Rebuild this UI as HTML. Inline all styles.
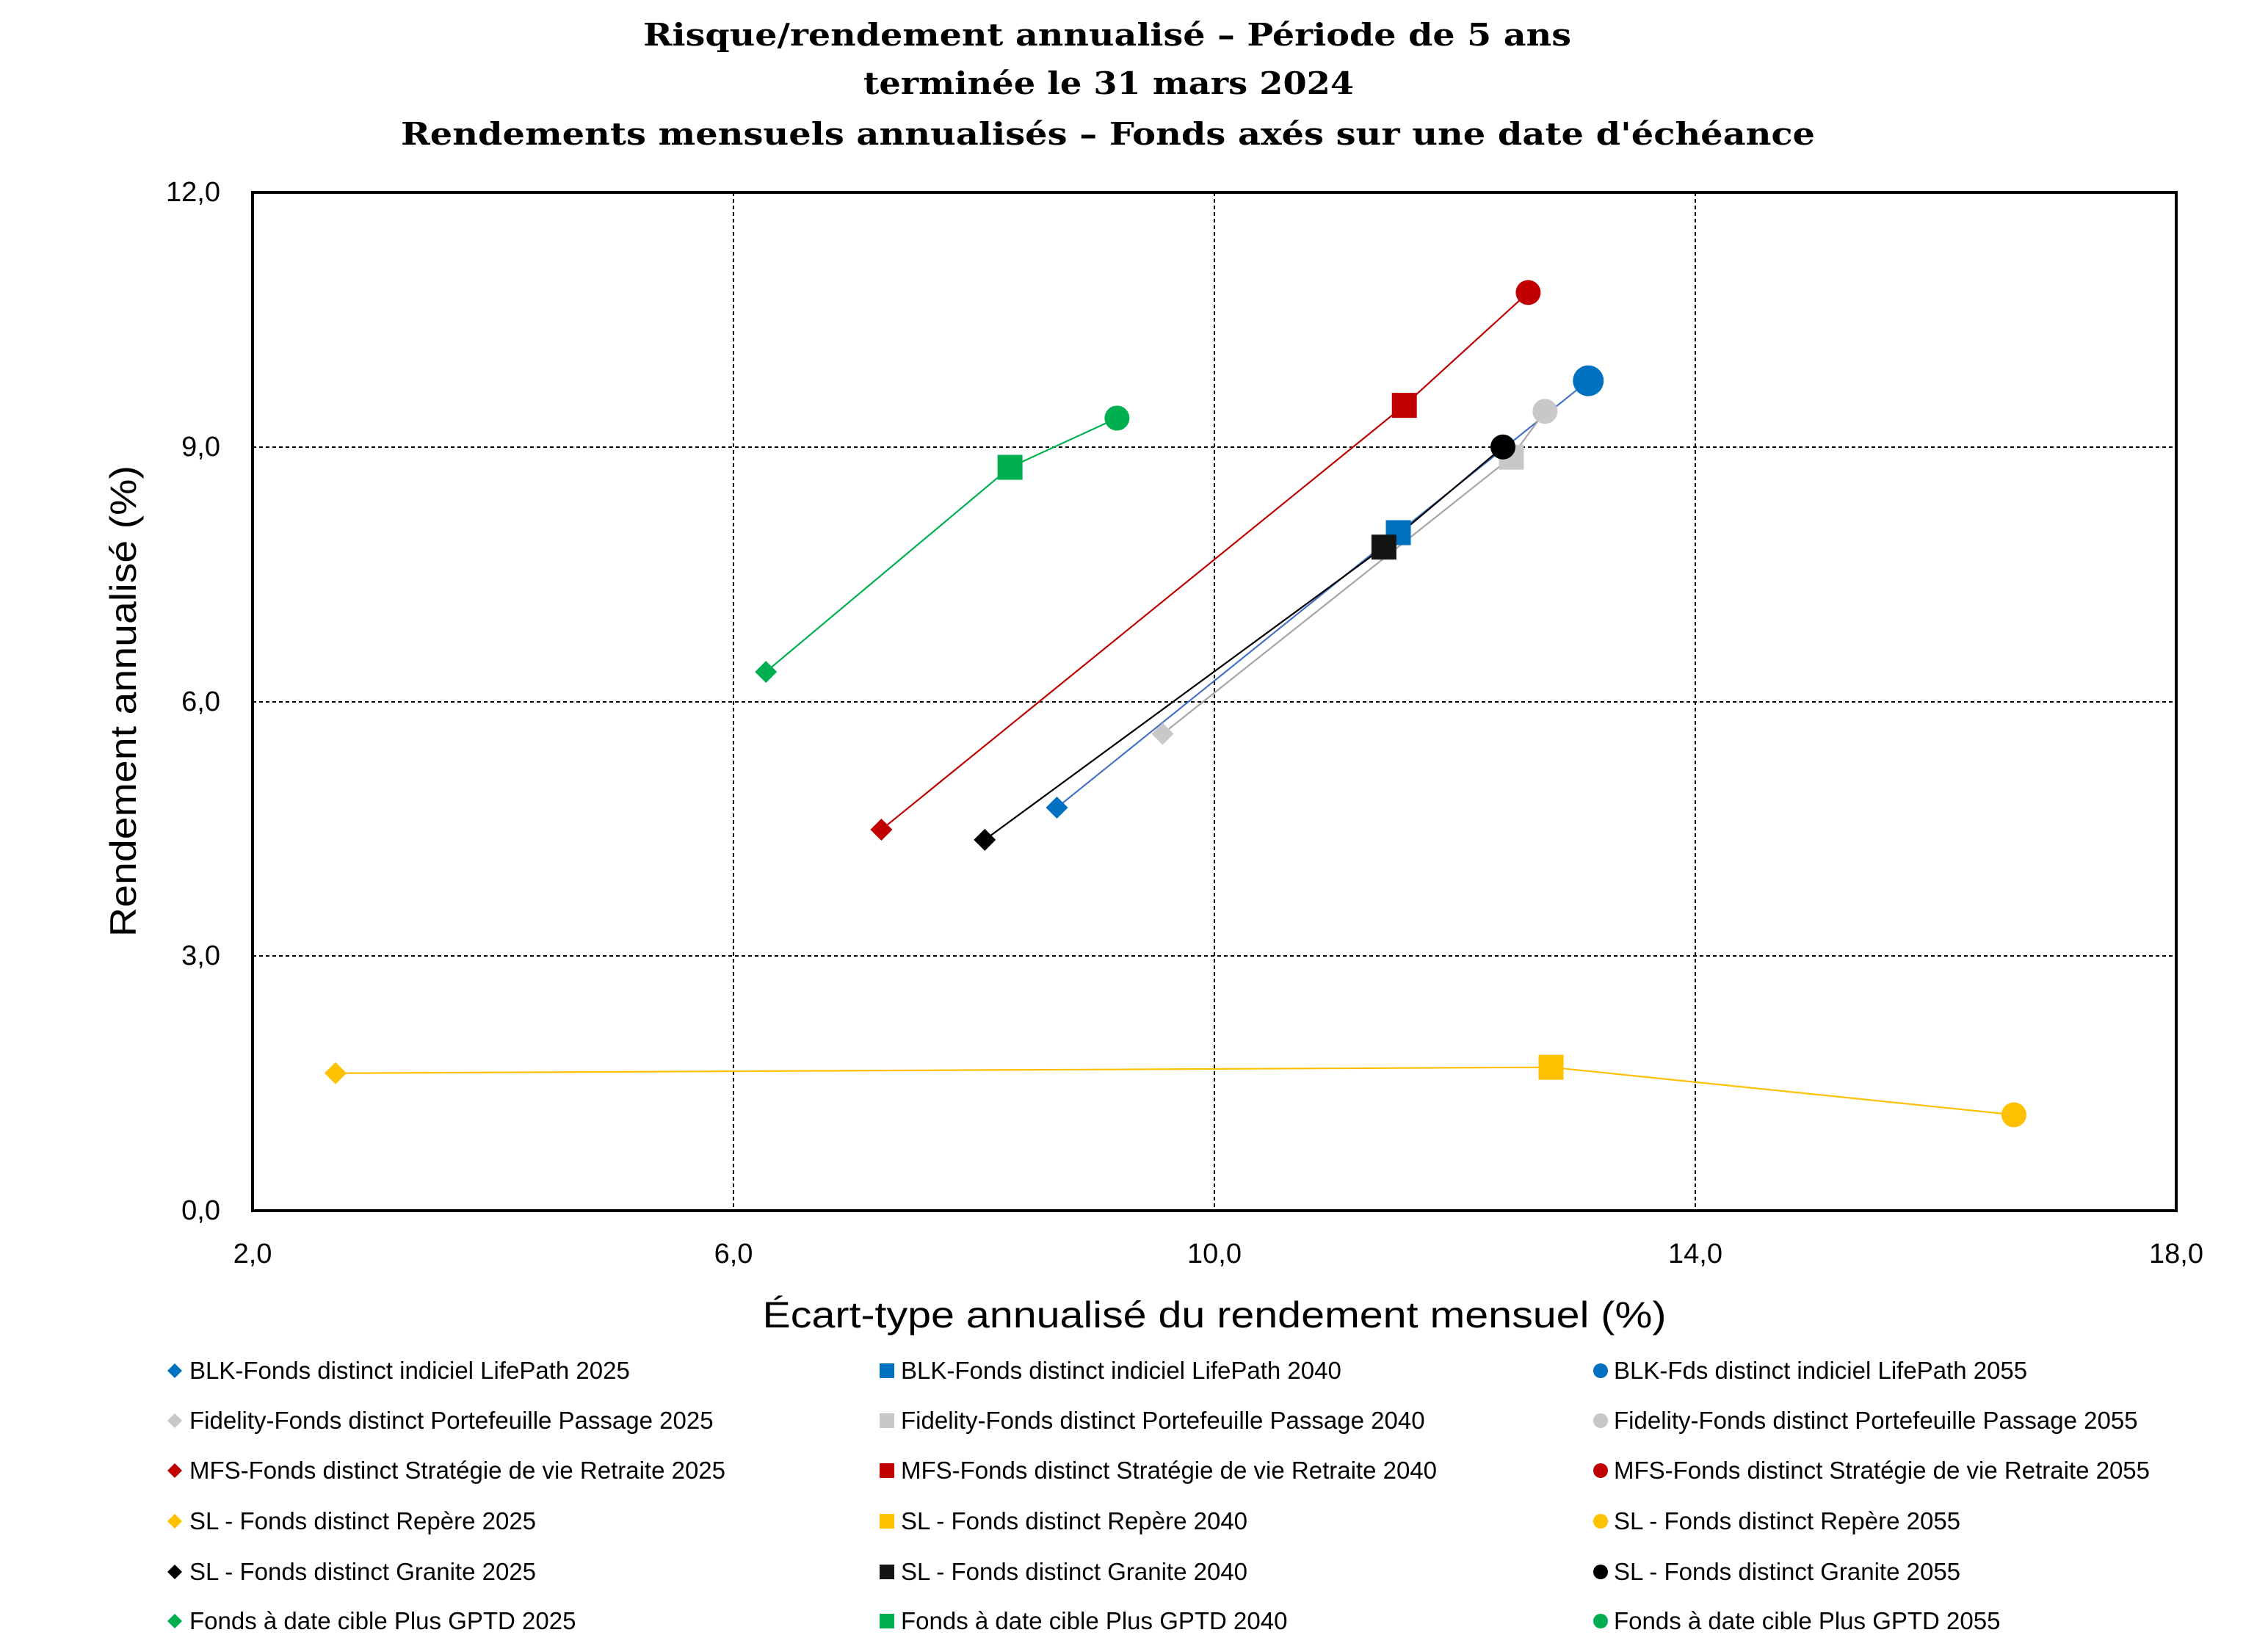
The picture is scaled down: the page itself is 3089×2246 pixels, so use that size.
<!DOCTYPE html>
<html><head><meta charset="utf-8"><style>
html,body{margin:0;padding:0;background:#fff}
svg{display:block}
</style></head><body>
<svg id="s" width="3089" height="2246" viewBox="0 0 3089 2246" xmlns="http://www.w3.org/2000/svg">
<rect width="3089" height="2246" fill="#fff"/>
<g font-family="'DejaVu Serif', 'Liberation Serif', serif" font-weight="bold" fill="#000" text-anchor="middle" font-size="42">
<text x="1508" y="62" textLength="1264" lengthAdjust="spacingAndGlyphs">Risque/rendement annualisé – Période de 5 ans</text>
<text x="1510" y="128" textLength="668" lengthAdjust="spacingAndGlyphs">terminée le 31 mars 2024</text>
<text x="1509" y="197" textLength="1926" lengthAdjust="spacingAndGlyphs">Rendements mensuels annualisés –  Fonds axés sur une date d'échéance</text>
</g>
<g stroke="#000" stroke-width="2" stroke-dasharray="5,4">
<line x1="999" y1="262" x2="999" y2="1649"/>
<line x1="1654" y1="262" x2="1654" y2="1649"/>
<line x1="2309" y1="262" x2="2309" y2="1649"/>
<line x1="344" y1="609" x2="2964" y2="609"/>
<line x1="344" y1="956" x2="2964" y2="956"/>
<line x1="344" y1="1302" x2="2964" y2="1302"/>
</g>
<rect x="344" y="262" width="2620" height="1387" fill="none" stroke="#000" stroke-width="4"/>
<g font-family="'Liberation Sans', sans-serif" font-size="38" fill="#000" text-anchor="end">
<text x="300" y="274">12,0</text>
<text x="300" y="621">9,0</text>
<text x="300" y="968">6,0</text>
<text x="300" y="1314">3,0</text>
<text x="300" y="1661">0,0</text>
</g>
<g font-family="'Liberation Sans', sans-serif" font-size="38" fill="#000" text-anchor="middle">
<text x="344" y="1720">2,0</text>
<text x="999" y="1720">6,0</text>
<text x="1654" y="1720">10,0</text>
<text x="2309" y="1720">14,0</text>
<text x="2964" y="1720">18,0</text>
</g>
<text transform="translate(185,955) rotate(-90)" font-family="'Liberation Sans', sans-serif" font-size="50" text-anchor="middle" textLength="642" lengthAdjust="spacingAndGlyphs">Rendement annualisé (%)</text>
<text x="1654" y="1808" font-family="'Liberation Sans', sans-serif" font-size="50" text-anchor="middle" textLength="1231" lengthAdjust="spacingAndGlyphs">Écart-type annualisé du rendement mensuel (%)</text>
<g id="plot"></g>
<g font-family="'Liberation Sans', sans-serif" font-size="33" fill="#000">
<text x="258" y="1878">BLK-Fonds distinct indiciel LifePath 2025</text>
<text x="1227" y="1878">BLK-Fonds distinct indiciel LifePath 2040</text>
<text x="2198" y="1878">BLK-Fds distinct indiciel LifePath 2055</text>
<text x="258" y="1946">Fidelity-Fonds distinct Portefeuille Passage 2025</text>
<text x="1227" y="1946">Fidelity-Fonds distinct Portefeuille Passage 2040</text>
<text x="2198" y="1946">Fidelity-Fonds distinct Portefeuille Passage 2055</text>
<text x="258" y="2014">MFS-Fonds distinct Stratégie de vie Retraite 2025</text>
<text x="1227" y="2014">MFS-Fonds distinct Stratégie de vie Retraite 2040</text>
<text x="2198" y="2014">MFS-Fonds distinct Stratégie de vie Retraite 2055</text>
<text x="258" y="2083">SL - Fonds distinct Repère 2025</text>
<text x="1227" y="2083">SL - Fonds distinct Repère 2040</text>
<text x="2198" y="2083">SL - Fonds distinct Repère 2055</text>
<text x="258" y="2152">SL - Fonds distinct Granite 2025</text>
<text x="1227" y="2152">SL - Fonds distinct Granite 2040</text>
<text x="2198" y="2152">SL - Fonds distinct Granite 2055</text>
<text x="258" y="2219">Fonds à date cible Plus GPTD 2025</text>
<text x="1227" y="2219">Fonds à date cible Plus GPTD 2040</text>
<text x="2198" y="2219">Fonds à date cible Plus GPTD 2055</text>
</g>
<g id="leg"></g>
</svg>
<script>
(function(){
var NS="http://www.w3.org/2000/svg";
function X(v){return 344+(v-2)*163.75;}
function Y(v){return 1649-v*115.58;}
var S=[
 {c:"#0070C0",l:"#4472C4",p:[[8.69,4.75],[11.53,7.99],[13.11,9.78]],big:true},
 {c:"#C8C8C8",l:"#A6A6A6",p:[[9.57,5.62],[12.47,8.88],[12.75,9.42]]},
 {c:"#C00000",l:"#C00000",p:[[7.23,4.49],[11.58,9.49],[12.61,10.82]]},
 {c:"#FFC000",l:"#FFC000",p:[[2.69,1.62],[12.80,1.69],[16.65,1.13]]},
 {c:"#000000",l:"#000000",sq:"#141414",p:[[8.09,4.37],[11.41,7.82],[12.40,9.0]]},
 {c:"#00B050",l:"#00B050",p:[[6.27,6.35],[8.30,8.76],[9.19,9.34]]}
];
var g=document.getElementById("plot"),lg=document.getElementById("leg");
function el(t,a,p){var e=document.createElementNS(NS,t);for(var k in a)e.setAttribute(k,a[k]);p.appendChild(e);return e;}
function dia(cx,cy,r,f,p){el("polygon",{points:(cx)+","+(cy-r)+" "+(cx+r)+","+cy+" "+cx+","+(cy+r)+" "+(cx-r)+","+cy,fill:f},p);}
S.forEach(function(s){
 el("polyline",{points:s.p.map(function(q){return X(q[0])+","+Y(q[1]);}).join(" "),fill:"none",stroke:s.l,"stroke-width":2.2},g);
});
S.forEach(function(s,i){
 var a=s.p[0],b=s.p[1],c=s.p[2];
 dia(X(a[0]),Y(a[1]),15,s.c,g);
 var w=34;el("rect",{x:X(b[0])-w/2,y:Y(b[1])-w/2,width:w,height:w,fill:s.sq||s.c},g);
 el("circle",{cx:X(c[0]),cy:Y(c[1]),r:s.big?21:17,fill:s.c},g);
 var y=[1867,1935,2003,2072,2141,2208][i];
 dia(238,y,10,s.c,lg);
 el("rect",{x:1198,y:y-10,width:20,height:20,fill:s.sq||s.c},lg);
 el("circle",{cx:2180,cy:y,r:10,fill:s.c},lg);
});
})();
</script>
</body></html>
